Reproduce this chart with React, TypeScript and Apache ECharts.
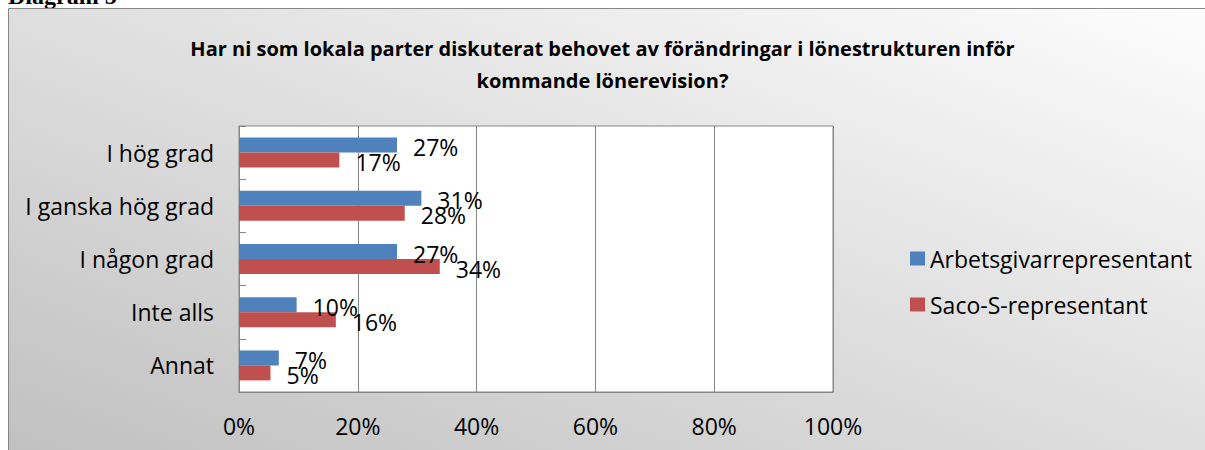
import React, { useEffect, useRef } from "react";
import * as echarts from "echarts";

const categories = ["I hög grad", "I ganska hög grad", "I någon grad", "Inte alls", "Annat"];
const employerValues = [26.6, 30.7, 26.6, 9.7, 6.7];
const sacoValues = [16.9, 27.9, 33.8, 16.3, 5.3];
const seriesNames = ["Arbetsgivarrepresentant", "Saco-S-representant"];
const xTicks = [0, 20, 40, 60, 80, 100];
const titleText =
  "Har ni som lokala parter diskuterat behovet av förändringar i lönestrukturen inför\nkommande lönerevision?";

const FONT = "'Open Sans', 'Noto Sans', sans-serif";
const FS = 23;

export default function App() {
  const ref = useRef<HTMLDivElement>(null);
  useEffect(() => {
    if (!ref.current) return;
    const chart = echarts.init(ref.current, null, { renderer: "svg" });
    const labelCfg = {
      show: true,
      position: "right",
      distance: 16,
      offset: [0, 2],
      color: "#000",
      fontFamily: FONT,
      fontSize: FS,
      formatter: (p: any) => Math.round(p.value) + "%",
    };
    chart.setOption({
      animation: false,
      graphic: [
        {
          type: "text",
          z: -20,
          x: 8,
          y: 8,
          style: {
            text: "Diagram 5",
            font: "bold 24px 'Liberation Serif', serif",
            fill: "#000",
            textVerticalAlign: "bottom",
          },
        },
        {
          type: "rect",
          z: -10,
          shape: { x: 8.5, y: 8.5, width: 1210, height: 450 },
          style: {
            fill: new echarts.graphic.LinearGradient(1, 0, 0, 1, [
              { offset: 0, color: "#fdfdfd" },
              { offset: 1, color: "#c0c0c0" },
            ]),
            stroke: "#868686",
            lineWidth: 1,
          },
        },
      ],
      title: {
        text: titleText,
        left: "center",
        top: 27,
        textStyle: {
          fontFamily: FONT,
          fontSize: 20,
          fontWeight: "bold",
          color: "#000",
          lineHeight: 32,
        },
      },
      legend: {
        orient: "vertical",
        left: 905,
        top: 242,
        itemWidth: 15,
        itemHeight: 14,
        itemGap: 23,
        icon: "rect",
        data: seriesNames,
        textStyle: { fontFamily: FONT, fontSize: FS, color: "#000", lineHeight: 23 },
      },
      grid: {
        left: 239,
        top: 126,
        width: 594,
        height: 266,
        show: true,
        backgroundColor: "#ffffff",
        borderColor: "#868686",
        borderWidth: 1,
      },
      xAxis: {
        type: "value",
        min: 0,
        max: 100,
        interval: 20,
        axisLine: { show: true, lineStyle: { color: "#868686" } },
        axisTick: { show: false },
        splitLine: { show: true, lineStyle: { color: "#868686", width: 1 } },
        axisLabel: {
          margin: 22,
          color: "#000",
          fontFamily: FONT,
          fontSize: FS,
          formatter: (v: number) => (xTicks.includes(v) ? v + "%" : ""),
        },
      },
      yAxis: {
        type: "category",
        inverse: true,
        data: categories,
        axisLine: { show: true, lineStyle: { color: "#868686" } },
        axisTick: { show: true, inside: true, length: 7, lineStyle: { color: "#868686" } },
        axisLabel: { margin: 25, color: "#000", fontFamily: FONT, fontSize: FS },
      },
      series: [
        {
          name: seriesNames[0],
          type: "bar",
          data: employerValues,
          barWidth: 15,
          barGap: "0%",
          itemStyle: { color: "#4F81BD" },
          label: labelCfg,
        },
        {
          name: seriesNames[1],
          type: "bar",
          data: sacoValues,
          barWidth: 15,
          barGap: "0%",
          itemStyle: { color: "#C0504D" },
          label: labelCfg,
        },
      ],
    });
    return () => chart.dispose();
  }, []);
  return (
    <div
      ref={ref}
      style={{ position: "absolute", left: 0, top: 0, width: 1205, height: 450 }}
    />
  );
}
